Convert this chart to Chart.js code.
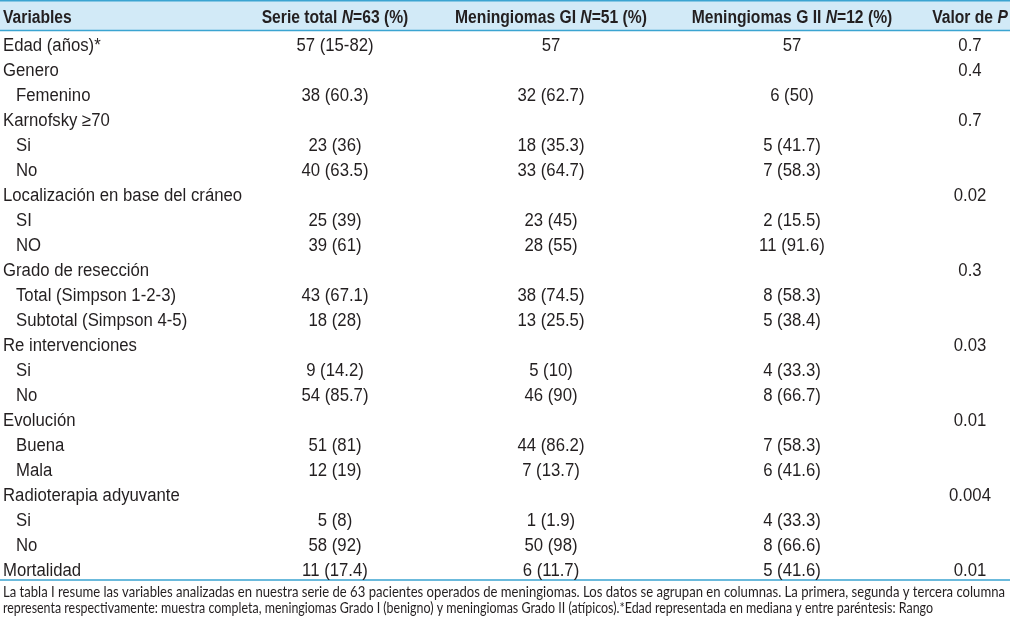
<!DOCTYPE html>
<html>
<head>
<meta charset="utf-8">
<title>Tabla 1 - Meningiomas</title>
<script src="https://cdn.jsdelivr.net/npm/chart.js@4.4.1/dist/chart.umd.min.js"></script>
<style>
body { margin: 0; background: #fff; }
#wrap { width: 1010px; height: 617px; }
</style>
</head>
<body>
<div id="wrap"><canvas id="myChart" width="1010" height="617"></canvas></div>
<script>
// datos de la tabla
var encabezados = ['Variables', 'Serie total N=63 (%)', 'Meningiomas GI N=51 (%)', 'Meningiomas G II N=12 (%)', 'Valor de P'];

var variables = ['Edad (años)*', 'Genero', 'Femenino', 'Karnofsky \u226570', 'Si', 'No',
	'Localización en base del cráneo', 'SI', 'NO', 'Grado de resección', 'Total (Simpson 1-2-3)',
	'Subtotal (Simpson 4-5)', 'Re intervenciones', 'Si', 'No', 'Evolución', 'Buena', 'Mala',
	'Radioterapia adyuvante', 'Si', 'No', 'Mortalidad'];

// 1 = subcategoria (con sangria)
var nivel = [0, 0, 1, 0, 1, 1, 0, 1, 1, 0, 1, 1, 0, 1, 1, 0, 1, 1, 0, 1, 1, 0];

var serieTotal = ['57 (15-82)', '', '38 (60.3)', '', '23 (36)', '40 (63.5)', '', '25 (39)', '39 (61)', '',
	'43 (67.1)', '18 (28)', '', '9 (14.2)', '54 (85.7)', '', '51 (81)', '12 (19)', '', '5 (8)', '58 (92)', '11 (17.4)'];
var gradoI = ['57', '', '32 (62.7)', '', '18 (35.3)', '33 (64.7)', '', '23 (45)', '28 (55)', '',
	'38 (74.5)', '13 (25.5)', '', '5 (10)', '46 (90)', '', '44 (86.2)', '7 (13.7)', '', '1 (1.9)', '50 (98)', '6 (11.7)'];
var gradoII = ['57', '', '6 (50)', '', '5 (41.7)', '7 (58.3)', '', '2 (15.5)', '11 (91.6)', '',
	'8 (58.3)', '5 (38.4)', '', '4 (33.3)', '8 (66.7)', '', '7 (58.3)', '6 (41.6)', '', '4 (33.3)', '8 (66.6)', '5 (41.6)'];
var valorP = ['0.7', '0.4', '', '0.7', '', '', '0.02', '', '', '0.3', '', '', '0.03', '', '', '0.01', '', '', '0.004', '', '', '0.01'];

var notas = ['La tabla I resume las variables analizadas en nuestra serie de 63 pacientes operados de meningiomas. Los datos se agrupan en columnas. La primera, segunda y tercera columna',
	'representa respectivamente: muestra completa, meningiomas Grado I (benigno) y meningiomas Grado II (atípicos).*Edad representada en mediana y entre paréntesis: Rango'];

// posiciones de columnas (en unidades del eje x)
var colX = [3, 335, 551, 792, 970];
var sangria = 13;

var FUENTE = '"Liberation Sans", Arial, sans-serif';
var ESTRECHO = 0.93;   // filas
var ESTRECHO_H = 0.87; // encabezado
var TEXTO = '#231f20';
var AZUL = '#3ba4d1';
var FONDO = '#d2eaf7';

// texto comprimido horizontalmente
function texto(ctx, txt, x, y, alinear, sx) {
	var w = ctx.measureText(txt).width * sx;
	var x0 = alinear === 'center' ? x - w / 2 : x;
	ctx.save();
	ctx.translate(x0, y);
	ctx.scale(sx, 1);
	ctx.textAlign = 'left';
	ctx.fillText(txt, 0, 0);
	ctx.restore();
	return w;
}

// encabezado con N / P en cursiva
function textoMixto(ctx, txt, cx, cy, alinear) {
	var partes = txt.split(/(N(?==)|P$)/).filter(function(p) { return p !== ''; });
	var fN = 'bold 18px ' + FUENTE, fI = 'italic bold 18px ' + FUENTE;
	var ancho = 0;
	partes.forEach(function(p) {
		ctx.font = (p === 'N' || p === 'P') ? fI : fN;
		ancho += ctx.measureText(p).width * ESTRECHO_H;
	});
	var x = alinear === 'left' ? cx : cx - ancho / 2;
	partes.forEach(function(p) {
		ctx.font = (p === 'N' || p === 'P') ? fI : fN;
		x += texto(ctx, p, x, cy, 'left', ESTRECHO_H);
	});
}

var tablaPlugin = {
	id: 'tabla',
	afterDraw: function(chart) {
		var ctx = chart.ctx;
		var xs = chart.scales.x, ys = chart.scales.y;
		var area = chart.chartArea;
		ctx.save();

		// encabezado
		ctx.fillStyle = FONDO;
		ctx.fillRect(area.left, 0, area.right - area.left, ys.top - 2);
		ctx.strokeStyle = AZUL;
		ctx.lineWidth = 1.5;
		ctx.beginPath();
		ctx.moveTo(area.left, 0.75); ctx.lineTo(area.right, 0.75);
		ctx.moveTo(area.left, ys.top - 2); ctx.lineTo(area.right, ys.top - 2);
		ctx.moveTo(area.left, ys.bottom - 2.5); ctx.lineTo(area.right, ys.bottom - 2.5);
		ctx.stroke();

		ctx.fillStyle = TEXTO;
		ctx.textBaseline = 'middle';
		var yh = (ys.top - 2) / 2 + 2.5;
		encabezados.forEach(function(h, j) {
			textoMixto(ctx, h, xs.getPixelForValue(colX[j]), yh, j === 0 ? 'left' : 'center');
		});

		// filas
		var columnas = [serieTotal, gradoI, gradoII, valorP];
		ctx.font = '18px ' + FUENTE;
		variables.forEach(function(v, i) {
			var y = ys.getPixelForValue(i) + 1.5;
			texto(ctx, v, xs.getPixelForValue(colX[0] + nivel[i] * sangria), y, 'left', ESTRECHO);
			columnas.forEach(function(col, j) {
				if (col[i]) texto(ctx, col[i], xs.getPixelForValue(colX[j + 1]), y, 'center', ESTRECHO);
			});
		});

		// nota al pie
		ctx.font = '16px "Lato", "Open Sans", sans-serif';
		var anchos = [1002, 930];
		notas.forEach(function(n, k) {
			var sx = anchos[k] / ctx.measureText(n).width;
			texto(ctx, n, area.left + 3, ys.bottom + 9 + k * 16, 'left', sx);
		});
		ctx.restore();
	}
};

var ctx = document.getElementById('myChart').getContext('2d');
var myChart = new Chart(ctx, {
	type: 'scatter',
	data: { datasets: [] },
	options: {
		responsive: false,
		devicePixelRatio: 1,
		animation: false,
		events: [],
		layout: { padding: { top: 32.5, bottom: 34.5, left: 0, right: 0 } },
		plugins: { legend: { display: false }, tooltip: { enabled: false } },
		scales: {
			x: { type: 'linear', min: 0, max: 1010, display: false },
			y: { type: 'category', labels: variables, offset: true, display: false }
		}
	},
	plugins: [tablaPlugin]
});
</script>
</body>
</html>
